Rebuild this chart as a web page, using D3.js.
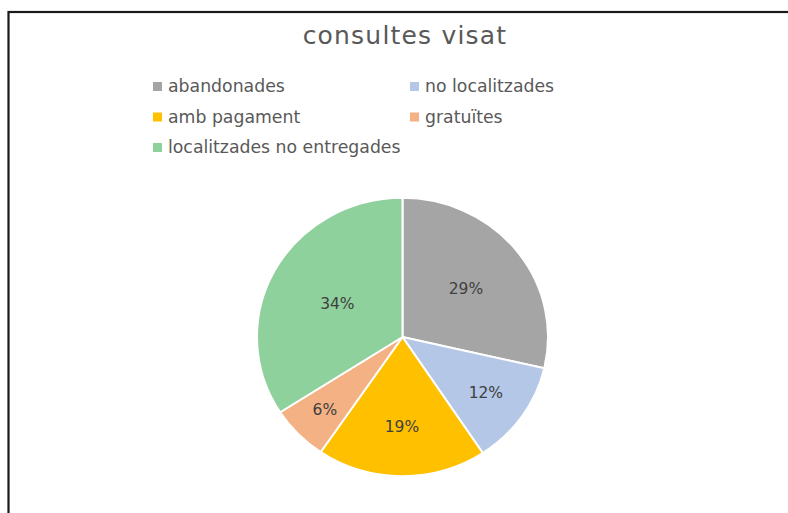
<!DOCTYPE html>
<html>
<head>
<meta charset="utf-8">
<script src="https://cdn.jsdelivr.net/npm/d3@7"></script>
<style>
  html, body { margin: 0; padding: 0; background: #fff; }
  svg { display: block; }
</style>
</head>
<body>
<svg id="chart" width="788" height="513"></svg>
<script>
const title = "consultes visat";
const categories = ["abandonades", "no localitzades", "amb pagament", "gratuïtes", "localitzades no entregades"];
const values = [28.6, 12.1, 18.8, 6.4, 34.1];
const colors = ["#A5A5A5", "#B4C7E7", "#FFC000", "#F4B183", "#8FD19D"];

const svg = d3.select("#chart");
const W = 788, H = 513;
const FONT = "DejaVu Sans, sans-serif";

// Frame
svg.append("rect")
  .attr("x", 8.5).attr("y", 12)
  .attr("width", W + 20).attr("height", H + 20)
  .attr("fill", "#fff")
  .attr("stroke", "#1a1a1a")
  .attr("stroke-width", 2.2);

// Title
svg.append("text")
  .attr("x", 405).attr("y", 44)
  .attr("text-anchor", "middle")
  .attr("font-family", FONT)
  .attr("font-size", 25)
  .attr("letter-spacing", 1.2)
  .attr("fill", "#595959")
  .text(title);

// Legend
const legendX = d3.scaleOrdinal().domain([0, 1]).range([153, 410]);
const legendY = d3.scaleOrdinal().domain([0, 1, 2]).range([92, 122.5, 153]);
const legend = svg.append("g");
categories.forEach((c, i) => {
  const col = i % 2, row = Math.floor(i / 2);
  const gx = legendX(col), gy = legendY(row);
  legend.append("rect")
    .attr("x", gx).attr("y", gy - 10)
    .attr("width", 9).attr("height", 9)
    .attr("fill", colors[i]);
  legend.append("text")
    .attr("x", gx + 15).attr("y", gy)
    .attr("font-family", FONT)
    .attr("font-size", 17.3)
    .attr("fill", "#595959")
    .text(c);
});

// Pie
const cx = 402.5, cy = 337, R = 145.5, sy = 0.956;
const total = d3.sum(values);
const pie = d3.pie().sort(null).value(d => d)(values);
const arc = d3.arc().innerRadius(0).outerRadius(R);

const g = svg.append("g").attr("transform", `translate(${cx},${cy})`);
g.append("g").attr("transform", `scale(1,${sy})`)
  .selectAll("path")
  .data(pie)
  .join("path")
  .attr("d", arc)
  .attr("fill", (d, i) => colors[i])
  .attr("stroke", "#fff")
  .attr("stroke-width", 2);

const fmt = d3.format(".0%");
g.selectAll("text.lbl")
  .data(pie)
  .join("text")
  .attr("class", "lbl")
  .each(function(d) {
    const share = d.value / total;
    const rr = R * (0.8 - 0.85 * share);
    const a = (d.startAngle + d.endAngle) / 2;
    const x = Math.sin(a) * rr;
    const y = -Math.cos(a) * rr * sy;
    d3.select(this).attr("x", x).attr("y", y + 5.5);
  })
  .attr("text-anchor", "middle")
  .attr("font-family", FONT)
  .attr("font-size", 15.5)
  .attr("fill", "#404040")
  .text(d => fmt(d.value / total));
</script>
</body>
</html>
